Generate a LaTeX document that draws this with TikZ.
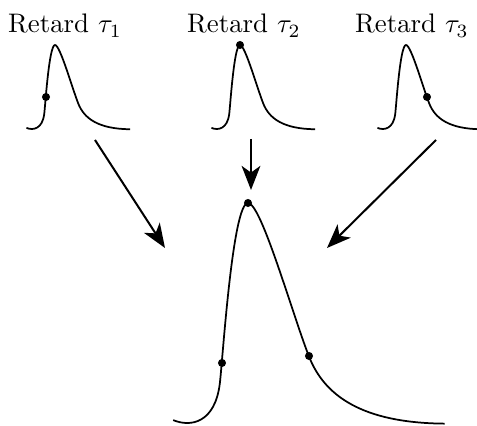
\documentclass[tikz,border=0pt]{standalone}
\usetikzlibrary{arrows.meta}
\begin{document}
\begin{tikzpicture}[
  x=0.373pt, y=-0.373pt,
  curve/.style={line width=0.65pt, line join=round},
  dot/.style={circle, fill=black, inner sep=0pt, minimum size=3pt},
  ar/.style={-{Stealth[length=9pt, width=7pt, inset=2.5pt]}, line width=0.75pt},
  lab/.style={anchor=base, inner sep=0pt},
  pulse/.pic={\draw[curve] (-0.34,0.987)
    .. controls (-0.26,1.02) and (-0.15,1.0) .. (-0.128,0.82)
    .. controls (-0.115,0.71) and (-0.07,0) .. (0,0)
    .. controls (0.06,0) and (0.2,0.5) .. (0.277,0.697)
    .. controls (0.347,0.877) and (0.52,1.0) .. (0.894,1.003);}]
\useasboundingbox (0,0) rectangle (477,426);

% --- three delayed pulses
\node[lab] (lab1) at (65,33) {Retard $\tau_1$};
\node[lab] (lab2) at (244,33) {Retard $\tau_2$};
\node[lab] (lab3) at (412,33) {Retard $\tau_3$};
\coordinate (p1) at (55,45);
\coordinate (p2) at (240,45);
\coordinate (p3) at (406,45);
\pic[scale=84] at (p1) {pulse};
\pic[scale=84] at (p2) {pulse};
\pic[scale=84] at (p3) {pulse};
\path (p1) ++(-9,52) node[dot] (d1) {};
\path (p2) node[dot] (d2) {};
\path (p3) ++(21,52) node[dot] (d3) {};

% --- resulting pulse
\coordinate (pb) at (248,203);
\pic[scale=220] at (pb) {pulse};
\path (pb) node[dot] (db2) {};
\path (pb) ++(-26,160) node[dot] (db1) {};
\path (pb) ++(61,153) node[dot] (db3) {};

% --- arrows
\coordinate (s1) at (95,140); \coordinate (t1) at (165,248);
\coordinate (s2) at (251,139); \coordinate (t2) at (251,190);
\coordinate (s3) at (436,140); \coordinate (t3) at (327,248);
\draw[ar] (s1) -- (t1);
\draw[ar] (s2) -- (t2);
\draw[ar] (s3) -- (t3);
\end{tikzpicture}
\end{document}
